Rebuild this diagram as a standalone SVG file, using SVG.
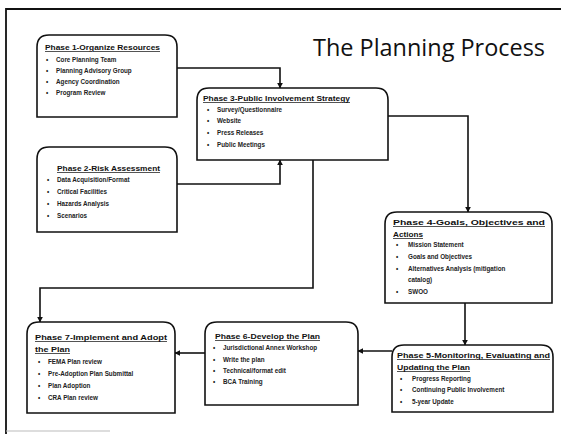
<svg xmlns="http://www.w3.org/2000/svg" width="561" height="434" viewBox="0 0 561 434">
  <defs>
    <style>
      .box { fill: #ffffff; stroke: #111111; stroke-width: 1.6; }
      .head { font-family: "Liberation Sans", Arial, sans-serif; font-weight: bold; font-size: 7.2px; fill: #111111; text-decoration: underline; }
      .item { font-family: "Liberation Sans", Arial, sans-serif; font-weight: bold; font-size: 6.3px; fill: #222222; }
      .title { font-family: "Open Sans", "Liberation Sans", sans-serif; font-size: 23px; fill: #111111; }
      .wire { fill: none; stroke: #111111; stroke-width: 1.6; }
      .frame { fill: none; stroke: #111111; stroke-width: 1.8; }
    </style>
    <marker id="arrow" viewBox="0 0 10 10" refX="9" refY="5" markerWidth="6" markerHeight="6" orient="auto" markerUnits="userSpaceOnUse">
      <path d="M0,0 L10,5 L0,10 z" fill="#111111"/>
    </marker>
  </defs>

  <rect width="561" height="434" fill="#ffffff"/>

  <!-- page frame -->
  <path class="frame" d="M6,434 L6,9 L561,9"/>
  <line x1="6" y1="431" x2="110" y2="431" stroke="#bbbbbb" stroke-width="1"/>

  <text class="title" x="313" y="56" textLength="232" lengthAdjust="spacingAndGlyphs">The Planning Process</text>

  <!-- connectors -->
  <g id="connectors">
    <path class="wire" d="M177,68 L280,68 L280,88" marker-end="url(#arrow)"/>
    <path class="wire" d="M177,184 L280,184 L280,160" marker-end="url(#arrow)"/>
    <path class="wire" d="M388,116 L468,116 L468,212" marker-end="url(#arrow)"/>
    <path class="wire" d="M313,160 L313,288 L40,288 L40,322" marker-end="url(#arrow)"/>
    <path class="wire" d="M465,303 L465,345" marker-end="url(#arrow)"/>
    <path class="wire" d="M392,351 L358,351" marker-end="url(#arrow)"/>
    <path class="wire" d="M205,353 L175,353" marker-end="url(#arrow)"/>
  </g>

  <!-- Phase 1 -->
  <g id="phase1">
    <path class="box" d="M37,117 L37,47 Q37,35 49,35 L165,35 Q177,35 177,47 L177,117 Z"/>
    <text class="head" x="45" y="50" textLength="115" lengthAdjust="spacingAndGlyphs">Phase 1-Organize Resources</text>
    <text class="item" x="46" y="62">•</text><text class="item" x="56" y="62">Core Planning Team</text>
    <text class="item" x="46" y="73">•</text><text class="item" x="56" y="73">Planning Advisory Group</text>
    <text class="item" x="46" y="84">•</text><text class="item" x="56" y="84">Agency Coordination</text>
    <text class="item" x="46" y="95">•</text><text class="item" x="56" y="95">Program Review</text>
  </g>

  <!-- Phase 2 -->
  <g id="phase2">
    <path class="box" d="M37,232 L37,159 Q37,147 49,147 L165,147 Q177,147 177,159 L177,232 Z"/>
    <text class="head" x="57" y="171" textLength="103" lengthAdjust="spacingAndGlyphs">Phase 2-Risk Assessment</text>
    <text class="item" x="47" y="182">•</text><text class="item" x="57" y="182">Data Acquisition/Format</text>
    <text class="item" x="47" y="194">•</text><text class="item" x="57" y="194">Critical Facilities</text>
    <text class="item" x="47" y="206">•</text><text class="item" x="57" y="206">Hazards Analysis</text>
    <text class="item" x="47" y="218">•</text><text class="item" x="57" y="218">Scenarios</text>
  </g>

  <!-- Phase 3 -->
  <g id="phase3">
    <path class="box" d="M197,160 L197,100 Q197,88 209,88 L376,88 Q388,88 388,100 L388,160 Z"/>
    <text class="head" x="203" y="101" textLength="147" lengthAdjust="spacingAndGlyphs">Phase 3-Public Involvement Strategy</text>
    <text class="item" x="207" y="112">•</text><text class="item" x="217" y="112">Survey/Questionnaire</text>
    <text class="item" x="207" y="123">•</text><text class="item" x="217" y="123">Website</text>
    <text class="item" x="207" y="135">•</text><text class="item" x="217" y="135">Press Releases</text>
    <text class="item" x="207" y="147">•</text><text class="item" x="217" y="147">Public Meetings</text>
  </g>

  <!-- Phase 4 -->
  <g id="phase4">
    <path class="box" d="M385,303 L385,224 Q385,212 397,212 L540,212 Q552,212 552,224 L552,303 Z"/>
    <text class="head" x="393" y="225" textLength="152" lengthAdjust="spacingAndGlyphs">Phase 4-Goals, Objectives and</text>
    <text class="head" x="393" y="237" textLength="30" lengthAdjust="spacingAndGlyphs">Actions</text>
    <text class="item" x="396" y="247">•</text><text class="item" x="408" y="247">Mission Statement</text>
    <text class="item" x="396" y="259">•</text><text class="item" x="408" y="259">Goals and Objectives</text>
    <text class="item" x="396" y="271">•</text><text class="item" x="408" y="271">Alternatives Analysis (mitigation</text>
    <text class="item" x="408" y="282">catalog)</text>
    <text class="item" x="396" y="294">•</text><text class="item" x="408" y="294">SWOO</text>
  </g>

  <!-- Phase 5 -->
  <g id="phase5">
    <path class="box" d="M392,412 L392,357 Q392,345 404,345 L541,345 Q553,345 553,357 L553,412 Z"/>
    <text class="head" x="397" y="358" textLength="153" lengthAdjust="spacingAndGlyphs">Phase 5-Monitoring, Evaluating and</text>
    <text class="head" x="397" y="370" textLength="73" lengthAdjust="spacingAndGlyphs">Updating the Plan</text>
    <text class="item" x="400" y="381">•</text><text class="item" x="412" y="381">Progress Reporting</text>
    <text class="item" x="400" y="392">•</text><text class="item" x="412" y="392">Continuing Public Involvement</text>
    <text class="item" x="400" y="404">•</text><text class="item" x="412" y="404">5-year Update</text>
  </g>

  <!-- Phase 6 -->
  <g id="phase6">
    <path class="box" d="M205,405 L205,334 Q205,322 217,322 L346,322 Q358,322 358,334 L358,405 Z"/>
    <text class="head" x="215" y="339" textLength="105" lengthAdjust="spacingAndGlyphs">Phase 6-Develop the Plan</text>
    <text class="item" x="213" y="350">•</text><text class="item" x="223" y="350">Jurisdictional Annex Workshop</text>
    <text class="item" x="213" y="362">•</text><text class="item" x="223" y="362">Write the plan</text>
    <text class="item" x="213" y="373">•</text><text class="item" x="223" y="373">Technical/format edit</text>
    <text class="item" x="213" y="384">•</text><text class="item" x="223" y="384">BCA Training</text>
  </g>

  <!-- Phase 7 -->
  <g id="phase7">
    <path class="box" d="M27,413 L27,334 Q27,322 39,322 L163,322 Q175,322 175,334 L175,413 Z"/>
    <text class="head" x="35" y="340" textLength="132" lengthAdjust="spacingAndGlyphs">Phase 7-Implement and Adopt</text>
    <text class="head" x="35" y="352" textLength="35" lengthAdjust="spacingAndGlyphs">the Plan</text>
    <text class="item" x="38" y="364">•</text><text class="item" x="48" y="364">FEMA Plan review</text>
    <text class="item" x="38" y="376">•</text><text class="item" x="48" y="376">Pre-Adoption Plan Submittal</text>
    <text class="item" x="38" y="388">•</text><text class="item" x="48" y="388">Plan Adoption</text>
    <text class="item" x="38" y="400">•</text><text class="item" x="48" y="400">CRA Plan review</text>
  </g>
</svg>
